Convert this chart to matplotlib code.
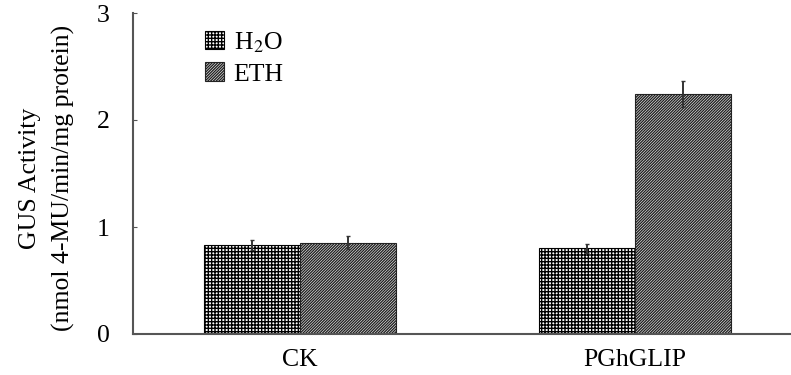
import numpy as np
import matplotlib.pyplot as plt

plt.rcParams['font.family'] = ['Liberation Serif', 'DejaVu Serif']
plt.rcParams['mathtext.fontset'] = 'stix'
plt.rcParams['hatch.linewidth'] = 1.0

groups = ['CK', 'PGhGLIP']
treatments = ['H$_2$O', 'ETH']
h2o = [0.83, 0.80]
h2o_err = [0.045, 0.04]
eth = [0.855, 2.24]
eth_err = [0.06, 0.12]

W, H = 791, 375
fig = plt.figure(figsize=(W / 100, H / 100), dpi=100)
ax = fig.add_axes([133 / W, 41 / H, 658 / W, 321 / H])

x = np.arange(len(groups))
w = 0.2866

ax.bar(x - w / 2, h2o, w, color='white', edgecolor='black', hatch='+++++',
       linewidth=0.8, label=treatments[0])
ax.bar(x + w / 2, eth, w, color='white', edgecolor='#222222', hatch='/' * 12,
       linewidth=0.8, label=treatments[1])
ax.errorbar(x - w / 2, h2o, yerr=h2o_err, fmt='none', ecolor='#333333',
            elinewidth=1.4, capsize=1.5, zorder=5)
ax.errorbar(x + w / 2, eth, yerr=eth_err, fmt='none', ecolor='#333333',
            elinewidth=1.4, capsize=1.5, zorder=5)

ax.set_xlim(-0.4985, 1.466)
ax.set_ylim(0, 3)
ax.set_yticks([0, 1, 2, 3])
ax.set_xticks(x)
ax.set_xticklabels(groups)

for s in ['top', 'right']:
    ax.spines[s].set_visible(False)
for s in ['left', 'bottom']:
    ax.spines[s].set_color('#555555')
    ax.spines[s].set_linewidth(1.5)

ax.tick_params(axis='y', direction='in', length=3, width=0.8, color='#555555',
               pad=17, labelsize=18.5)
ax.tick_params(axis='x', length=0, pad=11, labelsize=18.5)

fig.text(47 / W, 1 - 178 / H, 'GUS Activity\n(nmol 4-MU/min/mg protein)',
         rotation=90, ha='center', va='center', fontsize=18.5, linespacing=1.65)

ax.legend(loc='upper left', bbox_to_anchor=(205 / W, 1 - 30 / H),
          bbox_transform=fig.transFigure, frameon=False, fontsize=18.5,
          borderpad=0, borderaxespad=0, handlelength=0.75, handleheight=0.75,
          handletextpad=0.36, labelspacing=0.3)

fig.savefig('out.png', dpi=100)
